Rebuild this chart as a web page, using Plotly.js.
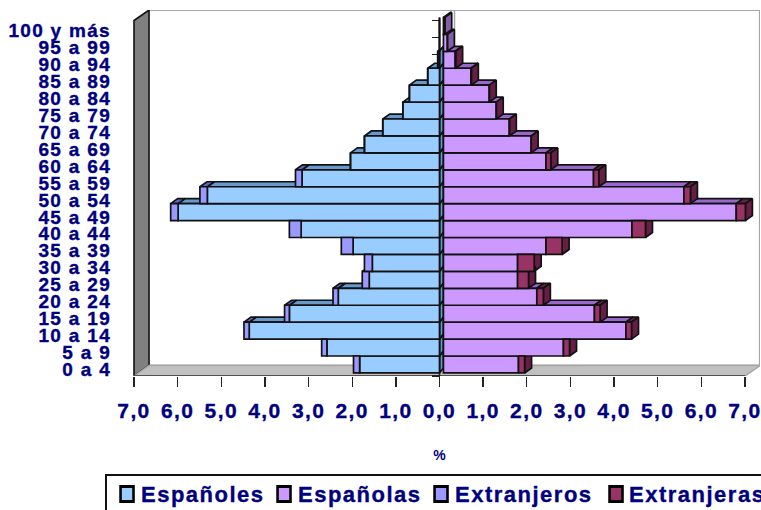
<!DOCTYPE html>
<html><head><meta charset="utf-8">
<script src="https://cdn.plot.ly/plotly-3.0.1.min.js"></script>
<style>
html,body{margin:0;padding:0;background:#fff;overflow:hidden}
.xtick text{letter-spacing:1.4px;stroke:#000080;stroke-width:.35px}
.ytick text{letter-spacing:1.3px;stroke:#000080;stroke-width:.35px}
.legendtext{letter-spacing:1.5px;stroke:#000080;stroke-width:.35px;transform:translate(-6px,-3px)}
.legendsymbols path{stroke:#000!important;stroke-width:2.4px!important;transform:translate(20px,-3px) scale(1.08,1.25)!important}
.traces:nth-child(4) .legendtext{transform:translate(11px,-3px)}
.traces:nth-child(4) .legendsymbols path{transform:translate(38px,-3px) scale(1.08,1.25)!important}
.legend rect.bg{width:720px}
.legend .scrollbox{clip-path:none!important}
</style></head><body><div id="chart" style="width:761px;height:510px"></div>
<script>
// bottom to top
const categories=["0 a 4","5 a 9","10 a 14","15 a 19","20 a 24","25 a 29","30 a 34","35 a 39","40 a 44","45 a 49","50 a 54","55 a 59","60 a 64","65 a 69","70 a 74","75 a 79","80 a 84","85 a 89","90 a 94","95 a 99","100 y más"];
const espanoles =[1.83,2.58,4.36,3.44,2.32,1.61,1.54,1.98,3.17,5.99,5.32,3.15,2.04,1.72,1.30,0.84,0.69,0.27,0.04,0,0];
const extranjeros=[0.14,0.12,0.12,0.11,0.12,0.16,0.18,0.27,0.27,0.17,0.17,0.15,0,0,0,0,0,0,0,0,0];
const espanolas =[1.72,2.75,4.18,3.46,2.14,1.70,1.70,2.35,4.32,6.71,5.51,3.44,2.35,2.01,1.51,1.21,1.05,0.63,0.27,0.09,0.03];
const extranjeras=[0.14,0.14,0.13,0.13,0.15,0.25,0.38,0.37,0.31,0.21,0.15,0.12,0.11,0,0,0,0,0.01,0.01,0,0];
const xTickVals=[-7,-6,-5,-4,-3,-2,-1,0,1,2,3,4,5,6,7];
const xTickText=["7,0","6,0","5,0","4,0","3,0","2,0","1,0","0,0","1,0","2,0","3,0","4,0","5,0","6,0","7,0"];
const colors={esM:"#99CCFF",esF:"#CC99FF",exM:"#9999FF",exF:"#993366"};

const yMax=categories.length;
const lift=0.18, rightShift=0.09;      // bar front plane relative to the axis plane
const barDx=0.16, barDy=0.295;         // bar depth
const wallDx=0.344, wallDy=0.62;       // chart depth
const idx=categories.map((_,i)=>i);
const yc=idx.map(i=>i+0.5+lift);
const flat={type:"scatter",mode:"lines",showlegend:false,hoverinfo:"skip"};

function poly(name,color,line,build){
  const x=[],y=[];
  idx.forEach(i=>{const p=build(i); if(!p)return; p.forEach(q=>{x.push(q[0]);y.push(q[1])}); x.push(p[0][0]);y.push(p[0][1]); x.push(null);y.push(null)});
  return Object.assign({},flat,{x,y,fill:"toself",fillcolor:color,line:{color:line,width:1.7},name});
}
function topFace(a,b,i){const t=i+1+lift;return [[a,t],[b,t],[b+barDx,t+barDy],[a+barDx,t+barDy]];}
function sideFace(e,i){const b=i+lift,t=b+1;return [[e,b],[e,t],[e+barDx,t+barDy],[e+barDx,b+barDy]];}

const wallLeft=Object.assign({},flat,{x:[-7,-7+wallDx,-7+wallDx,-7,-7],y:[0,wallDy,yMax+wallDy,yMax,0],fill:"toself",fillcolor:"#808080",line:{color:"#111",width:1.6}});
const wallBack=Object.assign({},flat,{x:[-7+wallDx,7+wallDx,7+wallDx,-7+wallDx],y:[yMax+wallDy,yMax+wallDy,wallDy,wallDy],line:{color:"#A6A6A6",width:2.2}});
const floor=Object.assign({},flat,{x:[-7,7,7+wallDx,-7+wallDx,-7],y:[0,0,wallDy,wallDy,0],fill:"toself",fillcolor:"#C0C0C0",line:{color:"#A6A6A6",width:1.5}});
const frontEdge=Object.assign({},flat,{x:[-7,7],y:[0,0],line:{color:"#333",width:1.5}});
const backZero=Object.assign({},flat,{x:[wallDx,wallDx],y:[wallDy,yMax+wallDy],line:{color:"#A6A6A6",width:1.5}});

const isThin=i=>espanolas[i]<0.1&&extranjeras[i]===0;
const faces=[
  poly("top esM","#6699CC","#111",i=>espanoles[i]>0?topFace(-espanoles[i],0,i):null),
  poly("top exM","#6666CC","#111",i=>extranjeros[i]>0?topFace(-espanoles[i]-extranjeros[i],-espanoles[i],i):null),
  poly("side esM","#6699CC","#111",i=>espanoles[i]>0?[[0,i+lift],[0,i+1+lift],[rightShift,i+1+lift+barDy],[rightShift,i+lift+barDy]]:null),
  poly("top esF","#9966CC","#111",i=>topFace(rightShift,rightShift+espanolas[i],i)),
  poly("top exF","#662244","#111",i=>extranjeras[i]>0?topFace(rightShift+espanolas[i],rightShift+espanolas[i]+extranjeras[i],i):null),
  poly("side exF","#661F44","#111",i=>isThin(i)?null:sideFace(rightShift+espanolas[i]+extranjeras[i],i)),
  poly("side esF","#8060A8","#111",i=>isThin(i)?sideFace(rightShift+espanolas[i],i):null)
];

function bar(name,vals,base,color){
  return {type:"bar",orientation:"h",name,x:vals,y:yc,base,width:1,zorder:1,marker:{color,line:{color:"#111",width:1.7}},hoverinfo:"skip"};
}
const bars=[
  bar("Españoles",espanoles.map(v=>-v),idx.map(()=>0),colors.esM),
  bar("Españolas",espanolas,idx.map(()=>rightShift),colors.esF),
  bar("Extranjeros",extranjeros.map(v=>-v),espanoles.map(v=>-v),colors.exM),
  bar("Extranjeras",extranjeras,espanolas.map(v=>v+rightShift),colors.exF)
];
const zeroAxis=Object.assign({},flat,{x:[0,0],y:[0,yMax],yaxis:"y2",line:{color:"#222",width:1.5}});

const navy="#000080";
const F="'Liberation Sans',Arial,sans-serif";
const range=[0,yMax+wallDy];
const layout={
  width:761,height:510,paper_bgcolor:"#fff",plot_bgcolor:"#fff",showlegend:true,barmode:"overlay",
  margin:{l:119,r:1,t:10,b:134,pad:0,autoexpand:false},
  xaxis:{range:[-7-wallDx,7+wallDx],tickmode:"array",tickvals:xTickVals,ticktext:xTickText,ticks:"outside",ticklen:10,tickwidth:1.3,tickcolor:"#222",showgrid:false,zeroline:false,showline:false,ticklabeloverflow:"allow",
    tickfont:{family:F,size:21,color:navy,weight:700},ticklabelstandoff:6,
    title:{text:"%",font:{family:F,size:14,color:navy,weight:700},standoff:28}},
  yaxis:{range,tickmode:"array",tickvals:idx.map(i=>i+0.4),ticktext:categories,ticks:"",showgrid:false,zeroline:false,showline:false,
    tickfont:{family:F,size:19,color:navy,weight:700},ticklabelstandoff:7},
  yaxis2:{overlaying:"y",anchor:"free",position:0.5,range,tickmode:"array",tickvals:idx.concat([yMax]),ticks:"outside",ticklen:8,tickwidth:1.2,tickcolor:"#222",showticklabels:false,showgrid:false,zeroline:false,showline:false},
  legend:{orientation:"h",x:-0.0218,xanchor:"left",y:-0.268,yanchor:"top",bgcolor:"#fff",bordercolor:"#111",borderwidth:2,font:{family:F,size:22,color:navy,weight:700},itemclick:false,itemdoubleclick:false,traceorder:"normal",itemwidth:30,entrywidth:112,entrywidthmode:"pixels"}
};
Plotly.newPlot("chart",[wallBack,backZero,wallLeft,floor,frontEdge].concat(faces,bars,[zeroAxis]),layout,{displayModeBar:false,staticPlot:true});
</script></body></html>
